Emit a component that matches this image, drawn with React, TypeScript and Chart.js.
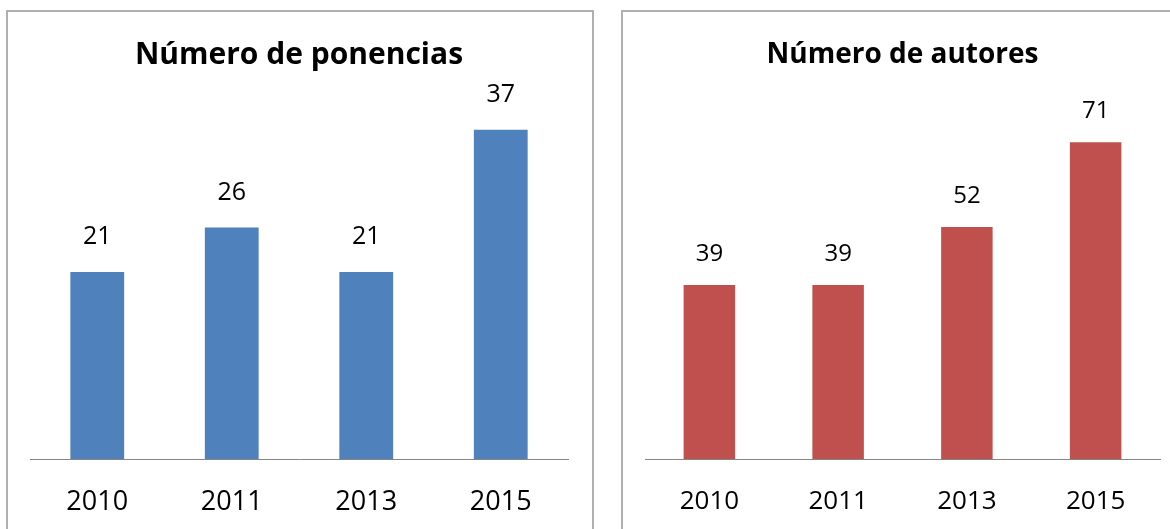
import React, { useEffect, useRef } from "react";
import { Chart, registerables } from "chart.js";

Chart.register(...registerables);

const years = ["2010", "2011", "2013", "2015"];
const ponencias = [21, 26, 21, 37];
const autores = [39, 39, 52, 71];

const FONT = "'Open Sans', 'DejaVu Sans', sans-serif";

type Cfg = {
  title: string;
  values: number[];
  color: string;
  yMax: number;
  titleSize: number;
  titlePadTop: number;
  titlePadBottom: number;
  padLeft: number;
  padRight: number;
  labelSize: number;
  labelOffset: number;
  tickSize: number;
};

const valueLabels = {
  id: "valueLabels",
  afterDatasetsDraw(chart: any, _args: any, opts: any) {
    const ctx = chart.ctx;
    const meta = chart.getDatasetMeta(0);
    const data = chart.data.datasets[0].data as number[];
    ctx.save();
    ctx.font = `${opts.size}px ${FONT}`;
    ctx.fillStyle = "#000";
    ctx.textAlign = "center";
    ctx.textBaseline = "alphabetic";
    meta.data.forEach((bar: any, i: number) => {
      ctx.fillText(String(data[i]), bar.x, bar.y - opts.offset);
    });
    ctx.restore();
  },
};

function BarChart({ cfg, width, height }: { cfg: Cfg; width: number; height: number }) {
  const ref = useRef<HTMLCanvasElement>(null);
  useEffect(() => {
    if (!ref.current) return;
    const chart = new Chart(ref.current, {
      type: "bar",
      data: {
        labels: years,
        datasets: [
          {
            data: cfg.values,
            backgroundColor: cfg.color,
            barPercentage: 0.4,
            categoryPercentage: 1,
          },
        ],
      },
      options: {
        animation: false,
        responsive: false,
        maintainAspectRatio: false,
        layout: { padding: { left: cfg.padLeft, right: cfg.padRight, top: 0, bottom: 0 } },
        plugins: {
          legend: { display: false },
          tooltip: { enabled: false },
          title: {
            display: true,
            text: cfg.title,
            color: "#000",
            font: { family: FONT, size: cfg.titleSize, weight: "bold", lineHeight: 1.2 },
            padding: { top: cfg.titlePadTop, bottom: cfg.titlePadBottom },
          },
          valueLabels: { size: cfg.labelSize, offset: cfg.labelOffset },
        } as any,
        scales: {
          x: {
            grid: { display: false, drawTicks: false },
            border: { display: true, color: "#868686", width: 1 },
            ticks: {
              color: "#000",
              padding: 27,
              font: { family: FONT, size: cfg.tickSize },
            },
            afterFit: (scale: any) => {
              scale.height = 70;
            },
          },
          y: {
            display: false,
            min: 0,
            max: cfg.yMax,
          },
        },
      },
      plugins: [valueLabels],
    });
    return () => chart.destroy();
  }, []);
  return <canvas ref={ref} width={width} height={height} style={{ display: "block", width, height }} />;
}

export default function App() {
  const left: Cfg = {
    title: "Número de ponencias",
    values: ponencias,
    color: "#4F81BD",
    yMax: 40,
    titleSize: 30,
    titlePadTop: 25,
    titlePadBottom: 30,
    padLeft: 22,
    padRight: 24,
    labelSize: 25,
    labelOffset: 28,
    tickSize: 27,
  };
  const right: Cfg = {
    title: "Número de autores",
    values: autores,
    color: "#C0504D",
    yMax: 80,
    titleSize: 28,
    titlePadTop: 26.2,
    titlePadBottom: 30.2,
    padLeft: 22,
    padRight: 10,
    labelSize: 24,
    labelOffset: 24,
    tickSize: 26,
  };
  const boxStyle: React.CSSProperties = {
    position: "fixed",
    top: 10,
    height: 540,
    border: "2px solid #b0b0b0",
    boxSizing: "border-box",
    background: "#fff",
    overflow: "hidden",
  };
  return (
    <div style={{ position: "fixed", inset: 0, background: "#fff" }}>
      <div style={{ ...boxStyle, left: 6, width: 588 }}>
        <BarChart cfg={left} width={584} height={517} />
      </div>
      <div style={{ ...boxStyle, left: 621, width: 560 }}>
        <BarChart cfg={right} width={547} height={517} />
      </div>
    </div>
  );
}
